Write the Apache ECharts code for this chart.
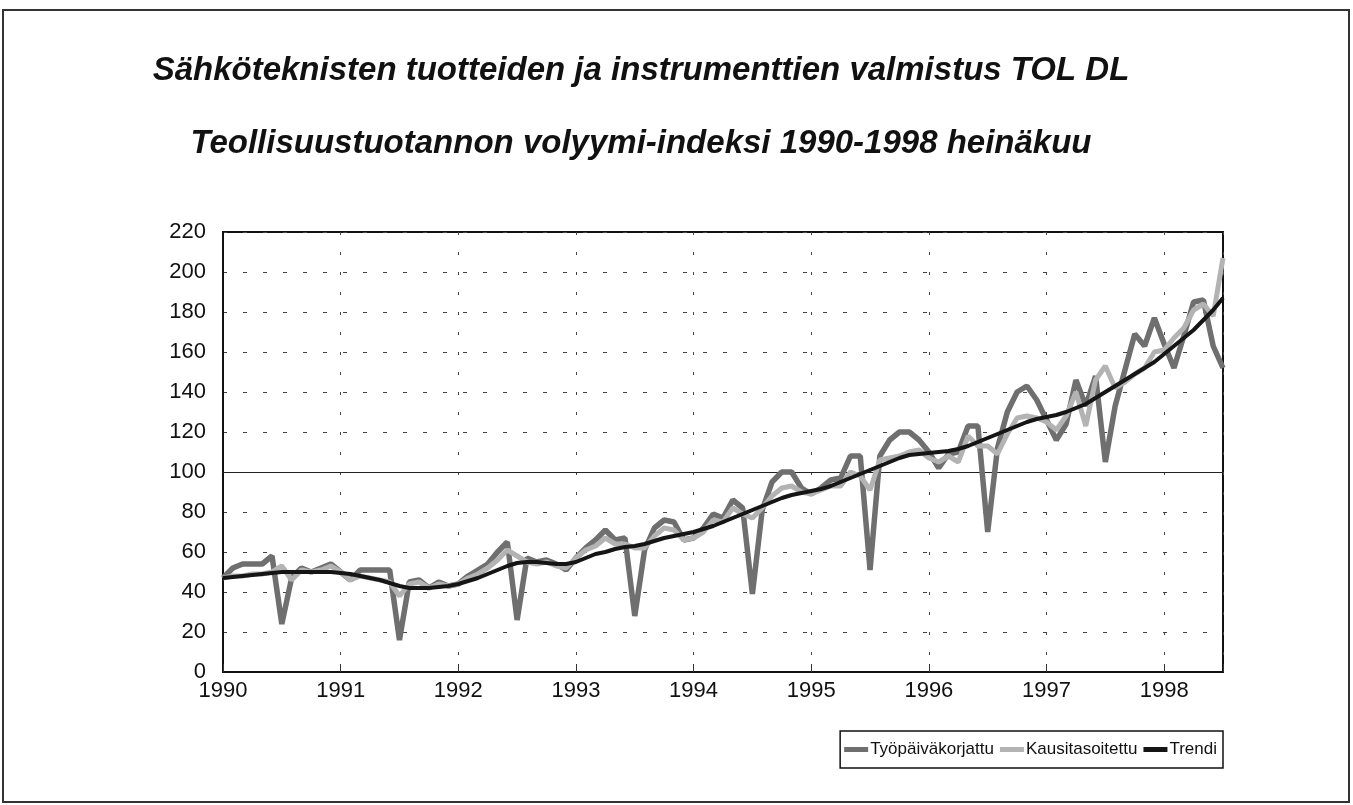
<!DOCTYPE html>
<html>
<head>
<meta charset="utf-8">
<script src="https://cdn.jsdelivr.net/npm/echarts@6/dist/echarts.min.js"></script>
<style>
html,body{margin:0;padding:0;background:#fff;}
#chart{width:1353px;height:805px;}
</style>
</head>
<body>
<div id="chart"></div>
<script>
// Monthly data, Jan 1990 .. Jul 1998 (index 0 = 1990 Jan)
var yearLabels = ['1990','1991','1992','1993','1994','1995','1996','1997','1998'];
var yTicks = [0,20,40,60,80,100,120,140,160,180,200,220];
var seriesNames = ['Työpäiväkorjattu','Kausitasoitettu','Trendi'];

var tyopaivakorjattu = [
 47,52,54,54,54,58,24,47,52,50,52,54,
 50,46,51,51,51,51,16,45,46,42,45,43,
 44,48,51,54,60,65,26,57,55,56,54,51,
 57,62,66,71,66,67,28,61,72,76,75,66,
 67,72,79,77,86,82,39,81,95,100,100,92,
 89,92,96,97,108,108,51,108,116,120,120,116,
 110,102,109,110,123,123,70,112,130,140,143,136,
 126,116,124,146,133,148,105,133,151,169,163,177,
 164,152,168,185,186,163,152
];
var kausitasoitettu = [
 47,48,48,49,49,50,53,46,51,50,51,53,
 50,46,48,47,46,45,38,44,45,42,44,43,
 44,47,49,52,56,61,58,55,54,55,53,52,
 57,61,63,67,64,64,62,62,68,72,71,66,
 67,70,76,75,82,79,77,82,88,92,93,90,
 89,91,93,93,100,98,91,106,107,108,110,111,
 107,105,108,105,118,113,113,109,119,127,128,127,
 125,121,128,140,123,146,153,142,145,149,152,160,
 161,167,172,181,184,178,207
];
var trendi = [
 47,47.5,48,48.5,49,49.5,50,50,50,50,50,50,
 49.5,49,48,47,46,44.5,43,42,42,42,42.5,43,
 44,45.5,47,49,51,53,54.5,55,55,54.5,54,54,
 55,57,59,60,61.5,62.5,63,64,65.5,67,68,69,
 70,71.5,73,75,77,79,81,83,85,87,88.5,89.5,
 90.5,91.5,93,95,97,99,101,103,105,107,108.5,109,
 109.5,110,110.5,111.5,113,115,117,119,121,123,125,126.5,
 127.5,128.5,130,132,134,137,140,143,146,149,152,155,
 159,163,167,171,176,181,187
];

function toPairs(arr){ return arr.map(function(v,i){ return [i,v]; }); }

var chart = echarts.init(document.getElementById('chart'), null, {renderer:'canvas'});
var labelFont = "'Liberation Sans', Arial, sans-serif";
var titleStyle = {fontFamily:"'Liberation Sans',Arial,sans-serif", fontStyle:'italic', fontWeight:'bold', fontSize:33, color:'#111'};
var option = {
  animation:false,
  backgroundColor:'#ffffff',
  title:[
    {text:'Sähköteknisten tuotteiden ja instrumenttien valmistus TOL DL', left:636, top:49, textAlign:'center', textStyle:titleStyle},
    {text:'Teollisuustuotannon volyymi-indeksi 1990-1998 heinäkuu', left:636, top:122, textAlign:'center', textStyle:titleStyle}
  ],
  graphic:[
    {type:'rect', shape:{x:3,y:10,width:1346,height:792}, style:{fill:'none', stroke:'#333', lineWidth:2}, z:-1}
  ],
  grid:{left:223, top:232, width:1000, height:440, show:true, borderColor:'#111', borderWidth:2, backgroundColor:'transparent'},
  legend:{
    data:seriesNames, right:130, top:731, orient:'horizontal',
    backgroundColor:'#fff', borderColor:'#111', borderWidth:1.5, borderRadius:0,
    padding:[10,6,10,4], itemGap:6, itemWidth:24, itemHeight:5,
    icon:'rect',
    textStyle:{fontFamily:labelFont, fontSize:17, color:'#111', padding:[0,0,0,-3]}
  },
  xAxis:{
    type:'value', min:0, max:102, interval:12,
    axisLine:{show:true, lineStyle:{color:'#111', width:2}},
    axisTick:{show:true, inside:true, length:8, lineStyle:{color:'#333', width:1}},
    axisLabel:{margin:8, color:'#111', fontFamily:labelFont, fontSize:22,
      formatter:function(v){ return (v % 12 === 0) ? yearLabels[v/12] : ''; }},
    splitLine:{show:true, lineStyle:{color:'#444', width:1, type:[3,17]}}
  },
  yAxis:{
    type:'value', min:0, max:220, interval:20,
    axisLine:{show:true, lineStyle:{color:'#111', width:2}},
    axisTick:{show:false},
    axisLabel:{margin:17, color:'#111', fontFamily:labelFont, fontSize:22,
      formatter:function(v){ return yTicks.indexOf(v) >= 0 ? String(v) : ''; }},
    splitLine:{show:true, lineStyle:{color:'#444', width:1, type:[4,16]}}
  },
  series:[
    {name:seriesNames[0], type:'line', data:toPairs(tyopaivakorjattu), showSymbol:false, symbol:'none',
     lineStyle:{color:'#6f6f6f', width:5.5}, itemStyle:{color:'#6f6f6f'}, z:2,
     markLine:{silent:true, symbol:'none', label:{show:false}, lineStyle:{color:'#222', width:1.2, type:'solid'}, data:[{yAxis:100}], z:1}},
    {name:seriesNames[1], type:'line', data:toPairs(kausitasoitettu), showSymbol:false, symbol:'none',
     lineStyle:{color:'#b3b3b3', width:5}, itemStyle:{color:'#b3b3b3'}, z:3},
    {name:seriesNames[2], type:'line', data:toPairs(trendi), showSymbol:false, symbol:'none',
     lineStyle:{color:'#151515', width:4}, itemStyle:{color:'#151515'}, z:4}
  ]
};
chart.setOption(option);
</script>
</body>
</html>
